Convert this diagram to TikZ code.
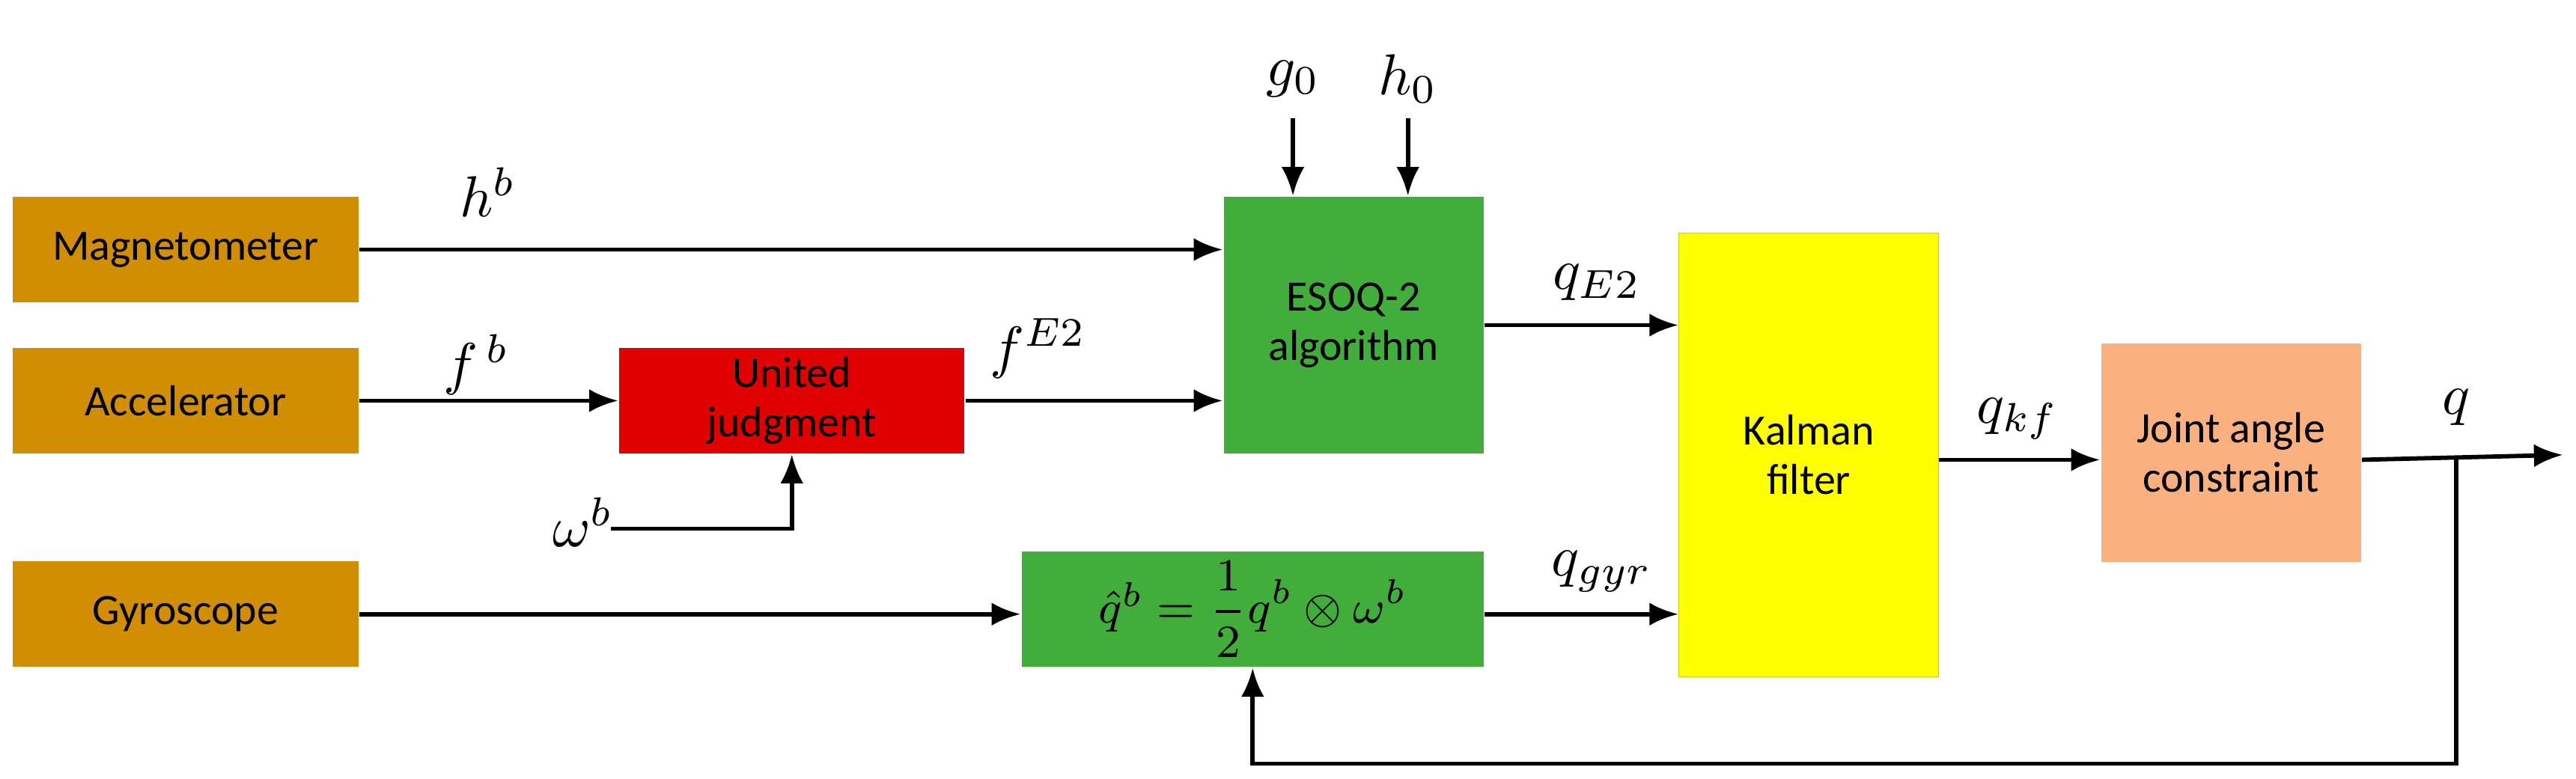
\documentclass[tikz,border=0pt]{standalone}
\usepackage{fontspec}
\setmainfont{Carlito}
\usetikzlibrary{arrows.meta}
\definecolor{gold}{HTML}{D18E00}
\definecolor{gred}{HTML}{E00000}
\definecolor{ggreen}{HTML}{41AD3A}
\definecolor{salmon}{HTML}{FBB080}
\definecolor{yel}{HTML}{FFFF00}
\begin{document}
\begin{tikzpicture}[x=0.01cm,y=-0.01cm,
  box/.style={draw=none,inner sep=0,align=center,font=\fontsize{7.5}{8.5}\selectfont},
  ln/.style={line width=0.75pt,-{Latex[length=5pt,width=4pt]}},
  lab/.style={font=\fontsize{10}{11}\selectfont}]
\useasboundingbox (0,0) rectangle (1568,474);
\node[box,fill=gold,minimum width=2.1cm,minimum height=0.64cm] (mag) at (113,152) {Magnetometer};
\node[box,fill=gold,minimum width=2.1cm,minimum height=0.64cm] (acc) at (113,244) {Accelerator};
\node[box,fill=gold,minimum width=2.1cm,minimum height=0.64cm] (gyr) at (113,374) {Gyroscope};
\node[box,fill=gred,minimum width=2.1cm,minimum height=0.64cm] (uj) at (482,244) {United\\judgment};
\node[box,fill=ggreen,minimum width=1.58cm,minimum height=1.56cm] (es) at (824,198) {ESOQ-2\\algorithm};
\node[box,fill=ggreen,minimum width=2.81cm,minimum height=0.70cm,font=\fontsize{8}{9}\selectfont] (qh) at (762.5,371) {$\hat{q}^{b}=\displaystyle\frac{1}{2}q^{b}\otimes\omega^{b}$};
\node[box,fill=yel,draw=yel!80!black,line width=0.2pt,minimum width=1.58cm,minimum height=2.70cm] (kf) at (1101,277) {Kalman\\filter};
\node[box,fill=salmon,minimum width=1.58cm,minimum height=1.33cm] (ja) at (1358,275.5) {Joint angle\\constraint};
\coordinate (w) at (372,322);
\coordinate (g0) at (787,72);
\coordinate (h0) at (857,72);
\coordinate (out) at (1560,277);
\coordinate (br) at (1495,279);
\node[lab] at (297,117) {$h^{b}$};
\node[lab] at (290,222) {$f^{\,b}$};
\node[lab] at (632,212) {$f^{E2}$};
\node[lab] at (355,318) {$\omega^{b}$};
\node[lab] at (787,48) {$g_0$};
\node[lab] at (857,48) {$h_0$};
\node[lab] at (972,172) {$q_{E2}$};
\node[lab] at (975,348) {$q_{gyr}$};
\node[lab] at (1228,255) {$q_{kf}$};
\node[lab] at (1495,248) {$q$};
\draw[ln] (mag.east) -- (es.west|-mag.east);
\draw[ln] (acc.east) -- (uj.west);
\draw[ln] (uj.east) -- (es.west|-uj.east);
\draw[ln] (w) -| (uj.south);
\draw[ln] (g0) -- (g0|-es.north);
\draw[ln] (h0) -- (h0|-es.north);
\draw[ln] (es.east|-0,198) -- (kf.west|-0,198);
\draw[ln] (gyr.east) -- (qh.west|-gyr.east);
\draw[ln] (qh.east|-0,374) -- (kf.west|-0,374);
\draw[ln] (kf.east|-0,280) -- (ja.west|-0,280);
\draw[ln] (ja.east|-0,280) -- (out);
\draw[ln] (br) -- (1495,465) -| (qh.south);
\end{tikzpicture}
\end{document}
